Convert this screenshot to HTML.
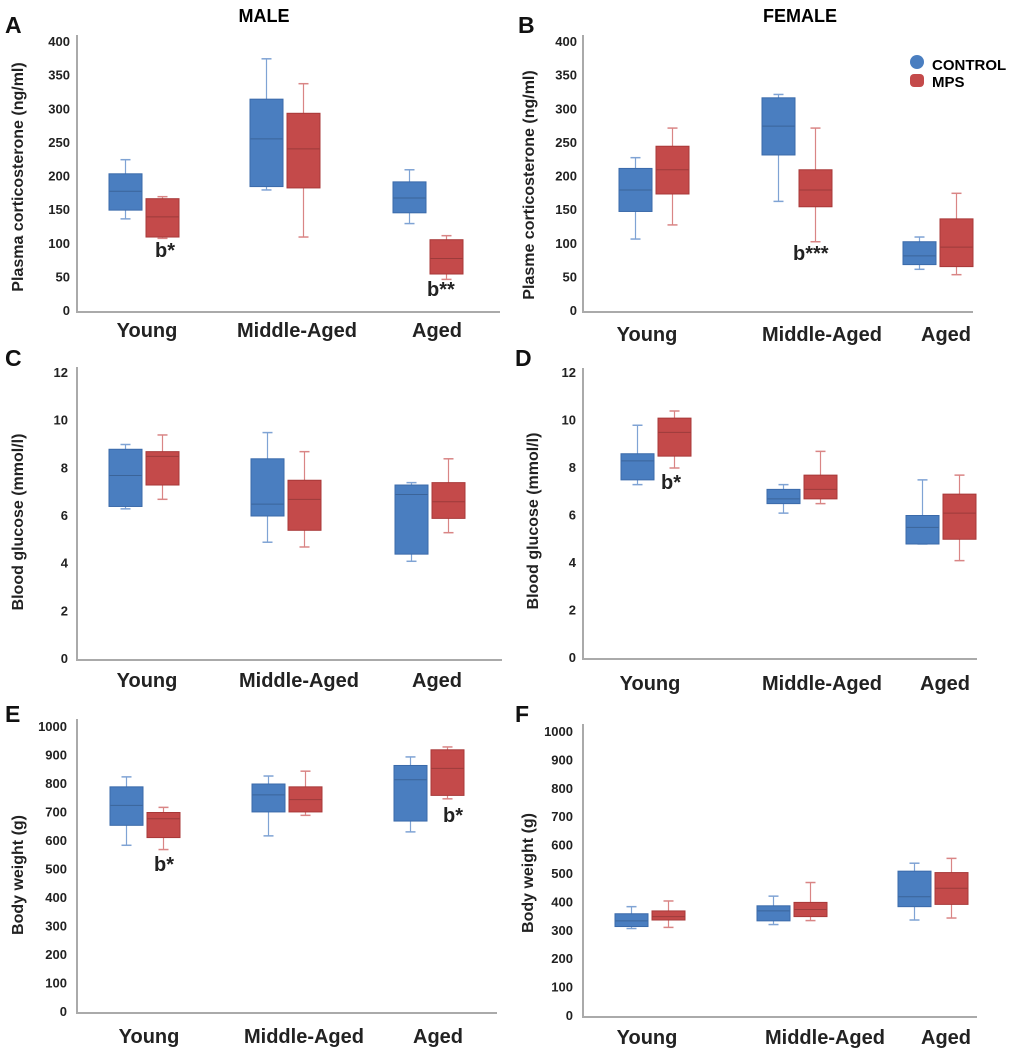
<!DOCTYPE html>
<html><head><meta charset="utf-8">
<style>
html,body{margin:0;padding:0;background:#fff;}
svg{display:block;font-family:"Liberation Sans",Arial,sans-serif;}
.tick{font-size:13px;font-weight:bold;fill:#222;}
.cat{font-size:20px;font-weight:bold;fill:#222;}
.ytitle{font-size:16px;font-weight:bold;fill:#222;}
.letter{font-size:23px;font-weight:bold;fill:#111;}
.ann{font-size:20px;font-weight:bold;fill:#222;}
</style></head>
<body>
<svg id="fig" width="1020" height="1053" viewBox="0 0 1020 1053">
<text x="264" y="22" text-anchor="middle" style="font-size:18px;font-weight:bold">MALE</text>
<text x="800" y="22" text-anchor="middle" style="font-size:18px;font-weight:bold">FEMALE</text>
<g>
<circle cx="917" cy="62" r="7" fill="#4a7ec0"/>
<text x="932" y="70" style="font-size:15px;font-weight:bold">CONTROL</text>
<rect x="910" y="74" width="14" height="13" rx="4" fill="#c44a4a"/>
<text x="932" y="87" style="font-size:15px;font-weight:bold">MPS</text>
</g>
</svg>
<script>
const categories=["Young","Middle-Aged","Aged"];
// [min,q1,median,q3,max] per category
const aControl=[[137,150,178,204,225],[180,185,256,315,375],[130,146,168,192,210]];
const aMps=[[108,110,140,167,170],[110,183,241,294,338],[47,55,78,106,112]];
const bControl=[[107,148,180,212,228],[163,232,275,317,322],[62,69,82,103,110]];
const bMps=[[128,174,210,245,272],[103,155,180,210,272],[54,66,95,137,175]];
const cControl=[[6.3,6.4,7.7,8.8,9.0],[4.9,6.0,6.5,8.4,9.5],[4.1,4.4,6.9,7.3,7.4]];
const cMps=[[6.7,7.3,8.5,8.7,9.4],[4.7,5.4,6.7,7.5,8.7],[5.3,5.9,6.6,7.4,8.4]];
const dControl=[[7.3,7.5,8.3,8.6,9.8],[6.1,6.5,6.7,7.1,7.3],[4.8,4.8,5.5,6.0,7.5]];
const dMps=[[8.0,8.5,9.5,10.1,10.4],[6.5,6.7,7.1,7.7,8.7],[4.1,5.0,6.1,6.9,7.7]];
const eControl=[[585,655,725,790,825],[618,702,762,800,828],[632,670,815,865,895]];
const eMps=[[570,612,678,700,718],[690,702,745,790,845],[748,760,855,920,930]];
const fControl=[[308,315,335,360,385],[322,335,370,388,422],[338,385,420,510,538]];
const fMps=[[312,338,350,370,405],[336,350,375,400,470],[345,393,450,505,555]];
const corticoTicks=[0,50,100,150,200,250,300,350,400];
const glucoseTicks=[0,2,4,6,8,10,12];
const weightTicks=[0,100,200,300,400,500,600,700,800,900,1000];

const NS="http://www.w3.org/2000/svg";
const svg=document.getElementById('fig');
function mk(tag,attrs,parent){const e=document.createElementNS(NS,tag);for(const k in attrs)e.setAttribute(k,attrs[k]);(parent||svg).appendChild(e);return e;}

const panels=[
 {id:'a',letter:'A',lx:5,ly:33,ax:77,ar:500,y0:311,yt:42,max:400,top:35,ticks:corticoTicks,tx:70,title:'Plasma corticosterone (ng/ml)',ttx:23,tty:177,centers:[144,285,428],catX:[147,297,437],catY:337,ctrl:aControl,mps:aMps,
  ann:[['b*',155,257],['b**',427,296]]},
 {id:'b',letter:'B',lx:518,ly:33,ax:583,ar:973,y0:311,yt:42,max:400,top:35,ticks:corticoTicks,tx:577,title:'Plasme corticosterone (ng/ml)',ttx:534,tty:185,centers:[654,797,938],catX:[647,822,946],catY:341,ctrl:bControl,mps:bMps,
  ann:[['b***',793,260]]},
 {id:'c',letter:'C',lx:5,ly:366,ax:77,ar:502,y0:659,yt:373,max:12,top:367,ticks:glucoseTicks,tx:68,title:'Blood glucose (mmol/l)',ttx:23,tty:522,centers:[144,286,430],catX:[147,299,437],catY:687,ctrl:cControl,mps:cMps,ann:[]},
 {id:'d',letter:'D',lx:515,ly:366,ax:583,ar:977,y0:658,yt:373,max:12,top:368,ticks:glucoseTicks,tx:576,title:'Blood glucose (mmol/l)',ttx:538,tty:521,centers:[656,802,941],catX:[650,822,945],catY:690,ctrl:dControl,mps:dMps,
  ann:[['b*',661,489]]},
 {id:'e',letter:'E',lx:5,ly:722,ax:77,ar:497,y0:1012,yt:727,max:1000,top:719,ticks:weightTicks,tx:67,title:'Body weight (g)',ttx:23,tty:875,centers:[145,287,429],catX:[149,304,438],catY:1043,ctrl:eControl,mps:eMps,
  ann:[['b*',154,871],['b*',443,822]]},
 {id:'f',letter:'F',lx:515,ly:722,ax:583,ar:977,y0:1016,yt:732,max:1000,top:724,ticks:weightTicks,tx:573,title:'Body weight (g)',ttx:533,tty:873,centers:[650,792,933],catX:[647,825,946],catY:1044,ctrl:fControl,mps:fMps,ann:[]}
];

const CB={fill:'#4a7ec0',stroke:'#3a6aaa',wh:'#7fa3d4'};
const CR={fill:'#c44a4a',stroke:'#a83838',wh:'#d98585'};

panels.forEach(p=>{
  const g=mk('g',{});
  
  
  const y=v=>p.y0-(v/p.max)*(p.y0-p.yt);
  const L=mk('text',{x:p.lx,y:p.ly,class:'letter'},g);L.textContent=p.letter;
  
  
  const ya=mk('line',{x1:p.ax,y1:p.top,x2:p.ax,y2:p.y0+1,stroke:'#aaa','stroke-width':2},g);
  
  
  const xa=mk('line',{x1:p.ax-1,y1:p.y0+1,x2:p.ar,y2:p.y0+1,stroke:'#aaa','stroke-width':2},g);
  
  
  p.ticks.forEach(t=>{
    const tt=mk('text',{x:p.tx,y:y(t)+4,class:'tick','text-anchor':'end'},g);tt.textContent=t;
    
    
  });
  const yt=mk('text',{x:0,y:0,class:'ytitle','text-anchor':'middle',transform:`translate(${p.ttx},${p.tty}) rotate(-90)`},g);
  yt.textContent=p.title;
  
  
  categories.forEach((c,i)=>{
    const ct=mk('text',{x:p.catX[i],y:p.catY,class:'cat','text-anchor':'middle'},g);ct.textContent=c;
    
    
    [[p.ctrl[i],CB,-18.5,'control'],[p.mps[i],CR,18.5,'mps']].forEach(([d,col,off,nm])=>{
      const cx=p.centers[i]+off;
      const bg=mk('g',{},g);
      
      
      mk('line',{x1:cx,y1:y(d[4]),x2:cx,y2:y(d[0]),stroke:col.wh,'stroke-width':1.2},bg);
      mk('line',{x1:cx-5,y1:y(d[4]),x2:cx+5,y2:y(d[4]),stroke:col.wh,'stroke-width':1.5},bg);
      mk('line',{x1:cx-5,y1:y(d[0]),x2:cx+5,y2:y(d[0]),stroke:col.wh,'stroke-width':1.5},bg);
      mk('rect',{x:cx-16.5,y:y(d[3]),width:33,height:Math.max(1,y(d[1])-y(d[3])),fill:col.fill,stroke:col.stroke,'stroke-width':1},bg);
      mk('line',{x1:cx-16,y1:y(d[2]),x2:cx+16,y2:y(d[2]),stroke:'rgba(0,0,0,0.2)','stroke-width':1},bg);
    });
  });
  p.ann.forEach(a=>{
    const at=mk('text',{x:a[1],y:a[2],class:'ann'},g);at.textContent=a[0];
    
    
  });
});
</script>
</body></html>
